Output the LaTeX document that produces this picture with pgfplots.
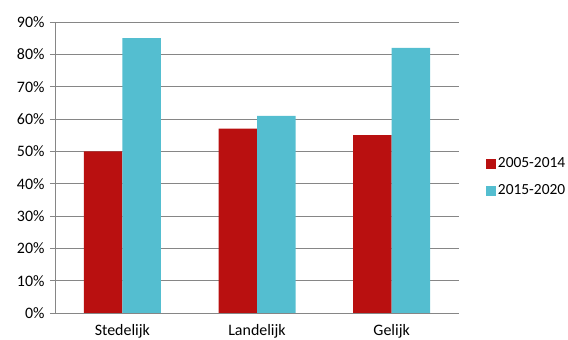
\documentclass[border=0pt]{standalone}
\usepackage{pgfplots}
\pgfplotsset{compat=1.18}
\usepackage{fontspec}
\setmainfont{Carlito}
\definecolor{cred}{RGB}{185,16,16}
\definecolor{ccyan}{RGB}{84,190,208}
\definecolor{cgrid}{RGB}{134,134,134}
\begin{document}
\fontsize{16}{19}\selectfont
\begin{tikzpicture}
\useasboundingbox (-55bp,-27bp) rectangle (513bp,313bp);
\begin{axis}[
  at={(0,0)}, anchor=south west,
  scale only axis,
  width=404bp, height=291bp,
  xmin=-0.5, xmax=2.5,
  ymin=0, ymax=90,
  ytick={0,10,...,90},
  yticklabel={\pgfmathprintnumber{\tick}\%},
  /pgf/number format/assume math mode=true,
  xtick={0,1,2},
  xticklabels={Stedelijk,Landelijk,Gelijk},
  xticklabel style={yshift=-0.5bp},
  extra x ticks={-0.5,0.5,1.5,2.5},
  extra x tick labels={},
  extra x tick style={major tick length=5bp, tick style={cgrid, line width=0.8pt}, grid=none},
  axis x line*=bottom,
  axis y line*=left,
  axis line style={cgrid, line width=0.8pt},
  x axis line style={-},
  y axis line style={-},
  ymajorgrids,
  grid style={cgrid, line width=0.8pt},
  major tick length=5bp,
  tick align=outside,
  xtick style={draw=none},
  ytick style={cgrid, line width=0.8pt},
  tick label style={font=\fontsize{16}{19}\selectfont, text=black},
  ybar,
  bar width=38.5bp,
  legend style={at={(1.06,0.466)}, anchor=west, draw=none, fill=none,
    font=\fontsize{15.5}{19}\selectfont, row sep=11bp,
    nodes={inner xsep=1.5bp}},
  legend cell align=left,
  legend image code/.code={\fill[#1] (0bp,-5bp) rectangle (10bp,5bp);},
]
\addplot[fill=cred, draw=none, bar shift=-19.25bp] coordinates {(0,50) (1,57) (2,55)};
\addplot[fill=ccyan, draw=none, bar shift=19.25bp] coordinates {(0,85) (1,61) (2,82)};
\legend{2005-2014,2015-2020}
\end{axis}
\end{tikzpicture}
\end{document}
